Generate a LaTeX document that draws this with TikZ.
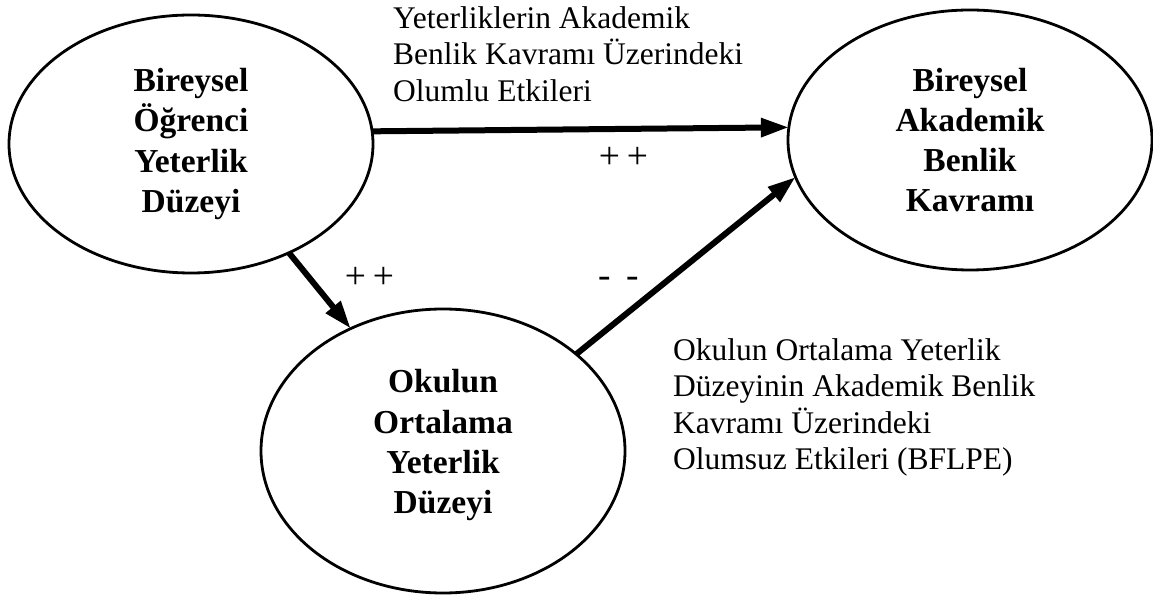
\documentclass[tikz,border=0pt]{standalone}
\usepackage{fontspec}
\setmainfont{Liberation Serif}
\usetikzlibrary{shapes.geometric,arrows.meta}
\newcommand{\signpair}[1]{\makebox[28pt]{#1}\makebox[28pt]{#1}}
\begin{document}
\begin{tikzpicture}[x=1pt,y=1pt,
  concept/.style={ellipse, draw, line width=2.8pt, inner sep=0pt, outer sep=0pt,
    minimum width=364pt, align=center,
    font=\fontsize{33.5}{40.2}\selectfont\bfseries},
  effect/.style={line width=6pt, -{Triangle[length=28pt,width=18pt]}},
  note/.style={align=left, anchor=north west, inner sep=0pt,
    font=\fontsize{31.5}{36.3}\selectfont},
  sign/.style={inner sep=0pt, anchor=base, font=\fontsize{37.5}{40}\selectfont}]
\useasboundingbox (0,0) rectangle (1153,597);

% the three constructs
\node[concept, minimum height=258pt] (indiv) at (191,453)
  {Bireysel\\Öğrenci\\Yeterlik\\Düzeyi};
\node[concept, minimum height=260pt] (self) at (970,457)
  {Bireysel\\Akademik\\Benlik\\Kavramı};
\node[concept, minimum height=284pt, text depth=19pt] (school) at (443,146)
  {Okulun\\Ortalama\\Yeterlik\\Düzeyi};

% effects between them
\draw[effect] (indiv.4.4) -- (self.176.8);
\draw[effect] (indiv.-48.4) -- (school.127.5);
\draw[effect] (school.36.9) -- (self.192);

% descriptions
\node[note] (posnote) at (393,590.5)
  {Yeterliklerin Akademik\\Benlik Kavramı Üzerindeki\\Olumlu Etkileri};
\node[note] (negnote) at (673,258.5)
  {Okulun Ortalama Yeterlik\\Düzeyinin Akademik Benlik\\Kavramı Üzerindeki\\Olumsuz Etkileri (BFLPE)};

% signs of the effects
\node[sign] (signtop) at (623.5,428.5) {\signpair{+}};
\node[sign] (signleft) at (369.5,308.5) {\signpair{+}};
\node[sign] (signneg) at (618.3,309.3) {\signpair{-}};
\end{tikzpicture}
\end{document}
